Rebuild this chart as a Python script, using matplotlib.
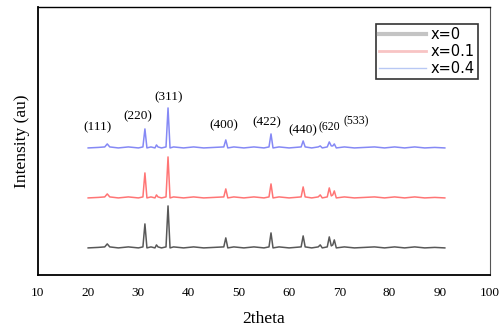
import matplotlib
matplotlib.use("Agg")
import matplotlib.pyplot as plt

# 2theta grid shared by the three patterns
theta = [20, 22, 23.3, 23.8, 24.3, 26, 28, 30, 30.9, 31.3, 31.7, 32.5, 33.3, 33.6, 33.9,
         34.6, 35.5, 35.9, 36.3, 37, 39, 41, 43, 45, 47.0, 47.4, 47.8, 49, 51, 53, 55,
         56.0, 56.4, 56.8, 58, 60, 62.4, 62.8, 63.2, 64.5, 65.8, 66.2, 66.6, 67.6, 68.0,
         68.4, 68.7, 69.0, 69.4, 71, 73, 75, 77, 79, 81, 83, 85, 87, 89, 91]

int_x0 = [0, 0.5, 1, 4, 1, 0, 1, 0, 1, 24, 0, 1, 0, 3, 1,
          0, 1, 42, 0, 1, 0, 1, 0, 0.5, 1, 10, 0, 1, 0, 1, 0,
          1, 15, 0, 1, 0, 1, 12, 1, 0, 1, 3, 0, 1, 11,
          2, 3, 8, 0, 1, 0, 0.5, 1, 0, 1, 0, 1, 0, 0.5, 0]
int_x01 = [0, 0.5, 1, 4, 1, 0, 1, 0, 1, 25, 0, 1, 0, 3, 1,
           0, 1, 41, 0, 1, 0, 1, 0, 0.5, 1, 9, 0, 1, 0, 1, 0,
           1, 14, 0, 1, 0, 1, 11, 1, 0, 1, 3, 0, 1, 10,
           2, 3, 7, 0, 1, 0, 0.5, 1, 0, 1, 0, 1, 0, 0.5, 0]
int_x04 = [0, 0.5, 1, 4, 1, 0, 1, 0, 1, 19, 0, 1, 0, 3, 1,
           0, 1, 40, 0, 1, 0, 1, 0, 0.5, 1, 8, 0, 1, 0, 1, 0,
           1, 14, 0, 1, 0, 1, 7, 1, 0, 1, 2, 0, 1, 6,
           2, 2, 4, 0, 1, 0, 0.5, 1, 0, 1, 0, 1, 0, 0.5, 0]

offsets = [0, 50, 100]

hkl = ['(111)', '(220)', '(311)', '(400)', '(422)', '(440)', '(620', '(533)']
hkl_x = [21.8, 29.9, 36.1, 47.1, 55.6, 62.7, 68.1, 73.3]
hkl_y = [115, 126, 145, 117, 120, 112, 115, 121]
hkl_size = [9.5, 9.5, 9.5, 9.5, 9.5, 9.5, 8.5, 8.5]

fig = plt.figure(figsize=(4.99, 3.32), dpi=100)
ax = fig.add_axes([0.076, 0.172, 0.906, 0.807])

ax.plot(theta, [v + offsets[0] for v in int_x0], color='#585858', lw=1.1)
ax.plot(theta, [v + offsets[1] for v in int_x01], color='#ff7575', lw=1.1)
ax.plot(theta, [v + offsets[2] for v in int_x04], color='#8589f5', lw=1.1)

for lab, xx, yy, fs in zip(hkl, hkl_x, hkl_y, hkl_size):
    ax.text(xx, yy, lab, ha='center', va='bottom', fontsize=fs, family='Liberation Serif')

ax.set_xlim(10, 100)
ax.set_ylim(-27, 241)
ax.set_xticks(range(10, 101, 10))
ax.set_yticks([])
ax.tick_params(axis='x', length=0, pad=9, labelsize=9.5)
for t in ax.get_xticklabels():
    t.set_family('Liberation Serif')
for s in ['left', 'bottom']:
    ax.spines[s].set_linewidth(1.3)
ax.spines['top'].set_linewidth(1.0)
ax.spines['right'].set_linewidth(0.8)
ax.spines['right'].set_color('#555555')

ax.set_xlabel('2theta', family='Liberation Serif', fontsize=12.5, labelpad=8)
ax.set_ylabel('Intensity (au)', family='Liberation Serif', fontsize=12.5, labelpad=6)

leg = ax.legend(handles=[plt.Line2D([], [], color='#c4c4c4', lw=3),
                         plt.Line2D([], [], color='#f8c4c4', lw=2),
                         plt.Line2D([], [], color='#b8c8f4', lw=1)],
                labels=['x=0', 'x=0.1', 'x=0.4'], loc='upper right',
                bbox_to_anchor=(0.99, 0.965), fontsize=10.5, fancybox=False,
                edgecolor='#333333', framealpha=1, handlelength=3.2,
                handletextpad=0.3, borderpad=0.25, labelspacing=0.12)
leg.get_frame().set_linewidth(1.2)

fig.savefig('out.png', dpi=100)
